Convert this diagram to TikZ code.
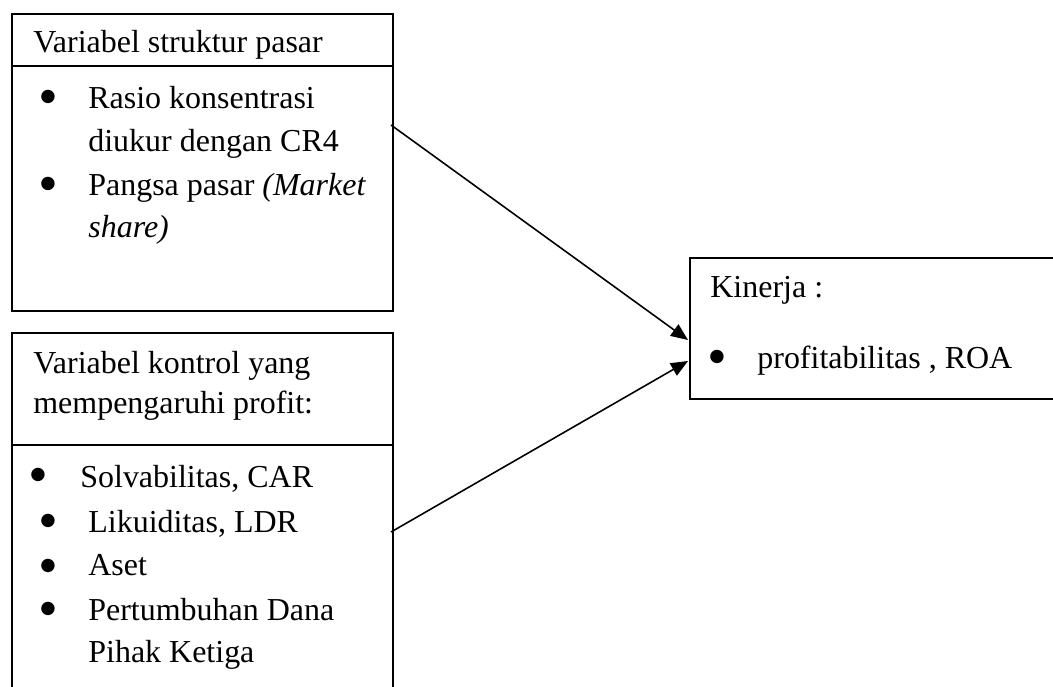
\documentclass[tikz,border=0pt]{standalone}
\usepackage{fontspec}
\setmainfont{Liberation Serif}
\newfontfamily\dotfont{DejaVu Sans}
\usetikzlibrary{arrows.meta, positioning}

\tikzset{
  box/.style={draw, line width=1.1pt, inner sep=0pt, anchor=north west},
  txt/.style={anchor=base west, inner sep=0pt, font=\fontsize{18.2}{22}\selectfont},
  dot/.style={anchor=base, inner sep=0pt, font=\dotfont\fontsize{10}{10}\selectfont},
  link/.style={-{Triangle[length=0.34cm, width=0.28cm]}, line width=0.9pt},
}

\begin{document}
\begin{tikzpicture}[x=0.02cm, y=-0.02cm]
  \useasboundingbox (0,0) rectangle (1053,686);
  % boxes
  \node[box, minimum width=7.62cm, minimum height=5.94cm] (struktur) at (11,13) {};
  \node[box, minimum width=7.62cm, minimum height=7.6cm] (kontrol) at (11,332) {};
  \node[box, minimum width=7.6cm, minimum height=2.82cm] (kinerja) at (689,257) {};
  \draw[line width=1.1pt] (struktur.west |- 0,66) -- (struktur.east |- 0,66);
  \draw[line width=1.1pt] (kontrol.west |- 0,445) -- (kontrol.east |- 0,445);

  % market structure
  \node[txt] (hstruktur) at (33,52) {Variabel struktur pasar};
  \node[dot] (dot1) at (48,101) {●};
  \node[txt] (rasio) at (88,108) {Rasio konsentrasi};
  \node[txt] (rasiob) at (88,151) {diukur dengan CR4};
  \node[dot] (dot2) at (48,188) {●};
  \node[txt] (pangsa) at (88,195) {Pangsa pasar \textit{(Market}};
  \node[txt] (pangsab) at (88,237) {\textit{share)}};

  % control variables
  \node[txt] (hkontrol) at (33,373) {Variabel kontrol yang};
  \node[txt] (hkontrolb) at (33,413) {mempengaruhi profit:};
  \node[dot] (dot3) at (38,479) {●};
  \node[txt] (solva) at (80,487) {Solvabilitas, CAR};
  \node[dot] (dot4) at (48,525) {●};
  \node[txt] (likui) at (88,532) {Likuiditas, LDR};
  \node[dot] (dot5) at (48,570) {●};
  \node[txt] (aset) at (88,575) {Aset};
  \node[dot] (dot6) at (48,613) {●};
  \node[txt] (dana) at (88,620) {Pertumbuhan Dana};
  \node[txt] (danab) at (88,662) {Pihak Ketiga};

  % performance
  \node[txt] (hkinerja) at (710,297) {Kinerja :};
  \node[dot] (dot7) at (717,361) {●};
  \node[txt] (roa) at (757,368) {profitabilitas , ROA};

  % arrows
  \coordinate (s1) at (391,125);
  \coordinate (t1) at (688,340);
  \coordinate (s2) at (391,532);
  \coordinate (t2) at (688,361);
  \draw[link] (s1) -- (t1);
  \draw[link] (s2) -- (t2);
\end{tikzpicture}
\end{document}
